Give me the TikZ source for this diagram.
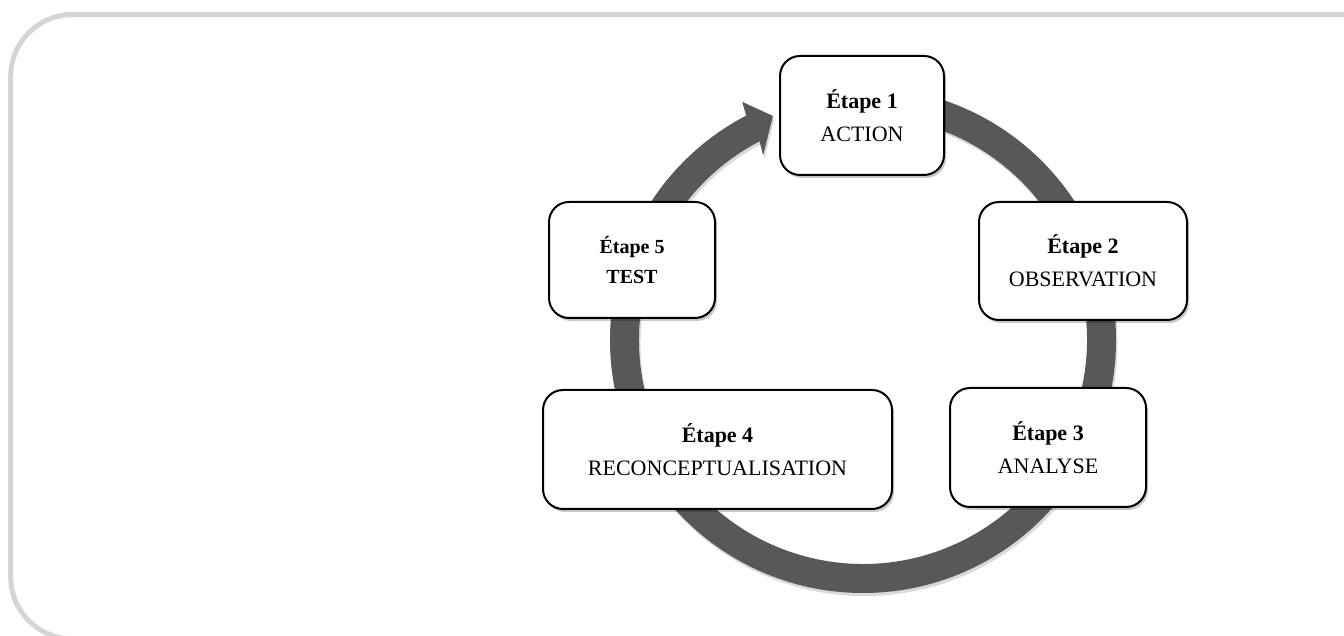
\documentclass[tikz,border=0pt]{standalone}
\usepackage{fontspec}
\setmainfont{Liberation Serif}
\usetikzlibrary{shadows}
\definecolor{framegray}{RGB}{212,213,215}
\definecolor{ringgray}{RGB}{88,88,88}
\newcommand{\ringshape}{(90:253) arc[start angle=90, end angle=-242.5, radius=253]
  -- (116.9:267) -- (111.9:241.5) -- (118.4:210) -- (117.5:224)
  arc[start angle=-242.5, end angle=90, radius=224] -- cycle}
\tikzset{
  stepbox/.style={draw=black, line width=2pt, fill=white, rounded corners=20pt,
    align=center, inner sep=0pt, font=\fontsize{22}{33}\selectfont,
    drop shadow={shadow xshift=2pt, shadow yshift=-3pt, opacity=0.22, fill=black}},
}
\begin{document}
\begin{tikzpicture}[x=1pt, y=1pt]
\useasboundingbox (0,0) rectangle (1344,636);
\begin{scope}
\clip (0,0) rectangle (1344,636);
\draw[framegray, line width=5pt, rounded corners=62pt] (10.7,-3) rectangle (1420,621.5);
\end{scope}
% ring with arrow
\begin{scope}[shift={(863,296)}]
\fill[black, opacity=0.15, shift={(1.5,-3)}] \ringshape;
\fill[ringgray] \ringshape;
\end{scope}
% steps
\node[stepbox, minimum width=164pt, minimum height=119pt] (s1) at (862,520.5)
  {\textbf{Étape 1}\\ACTION};
\node[stepbox, minimum width=208pt, minimum height=118pt] (s2) at (1083,375)
  {\textbf{Étape 2}\\OBSERVATION};
\node[stepbox, minimum width=196pt, minimum height=119pt] (s3) at (1048,188.5)
  {\textbf{Étape 3}\\ANALYSE};
\node[stepbox, minimum width=349pt, minimum height=119pt] (s4) at (717.5,186.5)
  {\textbf{Étape 4}\\RECONCEPTUALISATION};
\node[stepbox, minimum width=166pt, minimum height=116pt, font=\fontsize{20}{30}\selectfont] (s5) at (632,376)
  {\textbf{Étape 5}\\\textbf{TEST}};
\end{tikzpicture}
\end{document}
